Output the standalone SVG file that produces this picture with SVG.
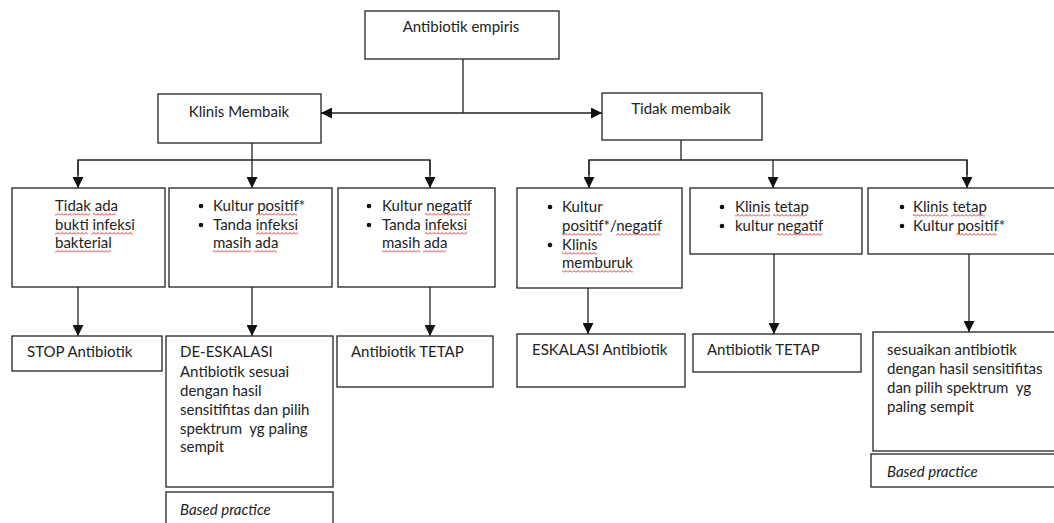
<svg xmlns="http://www.w3.org/2000/svg" width="1054" height="523" viewBox="0 0 1054 523">
<defs>
<marker id="ah" markerUnits="userSpaceOnUse" markerWidth="11" markerHeight="11" refX="11" refY="5.5" orient="auto">
<path d="M0,0 L11,5.5 L0,11 z" fill="#111"/>
</marker>
<pattern id="w0" patternUnits="userSpaceOnUse" x="0" y="0" width="4" height="3"><path d="M0,2.5 L2,0.5 L4,2.5" fill="none" stroke="#e01818" stroke-width="0.9"/></pattern>
<pattern id="w1" patternUnits="userSpaceOnUse" x="0" y="1" width="4" height="3"><path d="M0,2.5 L2,0.5 L4,2.5" fill="none" stroke="#e01818" stroke-width="0.9"/></pattern>
<pattern id="w2" patternUnits="userSpaceOnUse" x="0" y="2" width="4" height="3"><path d="M0,2.5 L2,0.5 L4,2.5" fill="none" stroke="#e01818" stroke-width="0.9"/></pattern>
</defs>
<style>
.box{fill:#fff;stroke:#222;stroke-width:1.3}
.ln{fill:none;stroke:#222;stroke-width:1.3}
.arr{fill:none;stroke:#222;stroke-width:1.3;marker-end:url(#ah)}
text{font-family:Lato,"Open Sans","Liberation Sans",sans-serif;font-size:15px;fill:#222}
.c{text-anchor:middle}
.i{font-style:italic}
.dot{fill:#111}
.u0{fill:url(#w0)}.u1{fill:url(#w1)}.u2{fill:url(#w2)}
</style>
<rect width="1054" height="523" fill="#fff"/>
<g id="connectors">
<line class="ln" x1="463" y1="59" x2="463" y2="113"/>
<line class="arr" x1="463" y1="113" x2="321" y2="113"/>
<line class="arr" x1="463" y1="113" x2="602" y2="113"/>
<line class="ln" x1="252" y1="143" x2="252" y2="160"/>
<polyline class="ln" points="78,175 78,160 430,160 430,175"/>
<line class="arr" x1="78" y1="160" x2="78" y2="188"/>
<line class="arr" x1="252" y1="160" x2="252" y2="188"/>
<line class="arr" x1="430" y1="160" x2="430" y2="188"/>
<line class="ln" x1="681" y1="140" x2="681" y2="160"/>
<polyline class="ln" points="589,175 589,160 967,160 967,175"/>
<line class="arr" x1="589" y1="160" x2="589" y2="188"/>
<line class="arr" x1="773" y1="160" x2="773" y2="188"/>
<line class="arr" x1="967" y1="160" x2="967" y2="188"/>
<line class="arr" x1="78" y1="287" x2="78" y2="336"/>
<line class="arr" x1="252" y1="287" x2="252" y2="336"/>
<line class="arr" x1="430" y1="287" x2="430" y2="336"/>
<line class="arr" x1="588" y1="288" x2="588" y2="334"/>
<line class="arr" x1="774" y1="254" x2="774" y2="334"/>
<line class="arr" x1="969" y1="254" x2="969" y2="332"/>
</g>
<g id="n-empiris"><rect class="box" x="365" y="11" width="194" height="48"/><text class="c" x="461" y="32">Antibiotik empiris</text></g>
<g id="n-membaik"><rect class="box" x="158" y="94" width="163" height="49"/><text class="c" x="239" y="117">Klinis Membaik</text></g>
<g id="n-tidak"><rect class="box" x="602" y="93" width="160" height="47"/><text class="c" x="681" y="114">Tidak membaik</text></g>
<g id="n-r1"><rect class="box" x="12" y="188" width="153" height="99"/>
<text x="55" y="211">Tidak ada</text><text x="55" y="230">bukti infeksi</text><text x="55" y="248">bakterial</text>
<rect class="u0" x="55" y="213" width="35" height="3"/><rect class="u0" x="93" y="213" width="23" height="3"/>
<rect class="u1" x="55" y="232" width="33" height="3"/><rect class="u1" x="91" y="232" width="42" height="3"/>
<rect class="u1" x="55" y="250" width="56" height="3"/></g>
<g id="n-r2"><rect class="box" x="169" y="188" width="163" height="99"/>
<circle class="dot" cx="201" cy="206" r="2.3"/><circle class="dot" cx="201" cy="225" r="2.3"/>
<text x="213" y="211">Kultur positif*</text><text x="213" y="230">Tanda infeksi</text><text x="213" y="248">masih ada</text>
<rect class="u0" x="256" y="213" width="41" height="3"/>
<rect class="u1" x="256" y="232" width="42" height="3"/>
<rect class="u1" x="213" y="250" width="38" height="3"/><rect class="u1" x="254" y="250" width="23" height="3"/></g>
<g id="n-r3"><rect class="box" x="338" y="188" width="157" height="99"/>
<circle class="dot" cx="369" cy="206" r="2.3"/><circle class="dot" cx="369" cy="225" r="2.3"/>
<text x="382" y="211">Kultur negatif</text><text x="382" y="230">Tanda infeksi</text><text x="382" y="248">masih ada</text>
<rect class="u0" x="425" y="213" width="45" height="3"/>
<rect class="u1" x="425" y="232" width="42" height="3"/>
<rect class="u1" x="382" y="250" width="38" height="3"/><rect class="u1" x="423" y="250" width="23" height="3"/></g>
<g id="n-r4"><rect class="box" x="517" y="188" width="165" height="100"/>
<circle class="dot" cx="550" cy="207" r="2.3"/><circle class="dot" cx="550" cy="245" r="2.3"/>
<text x="562" y="212">Kultur</text><text x="562" y="231">positif*/negatif</text><text x="562" y="250">Klinis</text><text x="562" y="268">memburuk</text>
<rect class="u2" x="562" y="233" width="40" height="3"/><rect class="u2" x="616" y="233" width="44" height="3"/>
<rect class="u0" x="562" y="252" width="35" height="3"/>
<rect class="u0" x="562" y="270" width="71" height="3"/></g>
<g id="n-r5"><rect class="box" x="690" y="188" width="172" height="66"/>
<circle class="dot" cx="722" cy="207" r="2.3"/><circle class="dot" cx="722" cy="226" r="2.3"/>
<text x="735" y="212">Klinis tetap</text><text x="735" y="231">kultur negatif</text>
<rect class="u1" x="735" y="214" width="35" height="3"/><rect class="u1" x="773" y="214" width="34" height="3"/>
<rect class="u2" x="777" y="233" width="45" height="3"/></g>
<g id="n-r6"><rect class="box" x="868" y="188" width="200" height="66"/>
<circle class="dot" cx="902" cy="207" r="2.3"/><circle class="dot" cx="902" cy="226" r="2.3"/>
<text x="913" y="212">Klinis tetap</text><text x="913" y="231">Kultur positif*</text>
<rect class="u1" x="913" y="214" width="35" height="3"/><rect class="u1" x="951" y="214" width="34" height="3"/>
<rect class="u2" x="956" y="233" width="41" height="3"/></g>
<g id="n-stop"><rect class="box" x="12" y="336" width="150" height="35"/><text x="27" y="357">STOP Antibiotik</text></g>
<g id="n-deesk"><rect class="box" x="166" y="336" width="167" height="151"/>
<text x="180" y="357">DE-ESKALASI</text><text x="180" y="377">Antibiotik sesuai</text><text x="180" y="396">dengan hasil</text><text x="180" y="415">sensitifitas dan pilih</text><text x="180" y="434">spektrum&#160; yg paling</text><text x="180" y="452">sempit</text></g>
<g id="n-bp1"><rect class="box" x="166" y="492" width="167" height="40"/><text class="i" x="180" y="515">Based practice</text></g>
<g id="n-tetap1"><rect class="box" x="337" y="336" width="156" height="51"/><text x="351" y="357">Antibiotik TETAP</text></g>
<g id="n-esk"><rect class="box" x="517" y="334" width="168" height="53"/><text x="532" y="355">ESKALASI Antibiotik</text></g>
<g id="n-tetap2"><rect class="box" x="693" y="334" width="168" height="38"/><text x="707" y="355">Antibiotik TETAP</text></g>
<g id="n-sesuai"><rect class="box" x="873" y="332" width="200" height="119"/>
<text x="887" y="355">sesuaikan antibiotik</text><text x="887" y="374">dengan hasil sensitifitas</text><text x="887" y="393">dan pilih spektrum&#160; yg</text><text x="887" y="412">paling sempit</text></g>
<g id="n-bp2"><rect class="box" x="871" y="454" width="200" height="33"/><text class="i" x="887" y="477">Based practice</text></g>
</svg>
